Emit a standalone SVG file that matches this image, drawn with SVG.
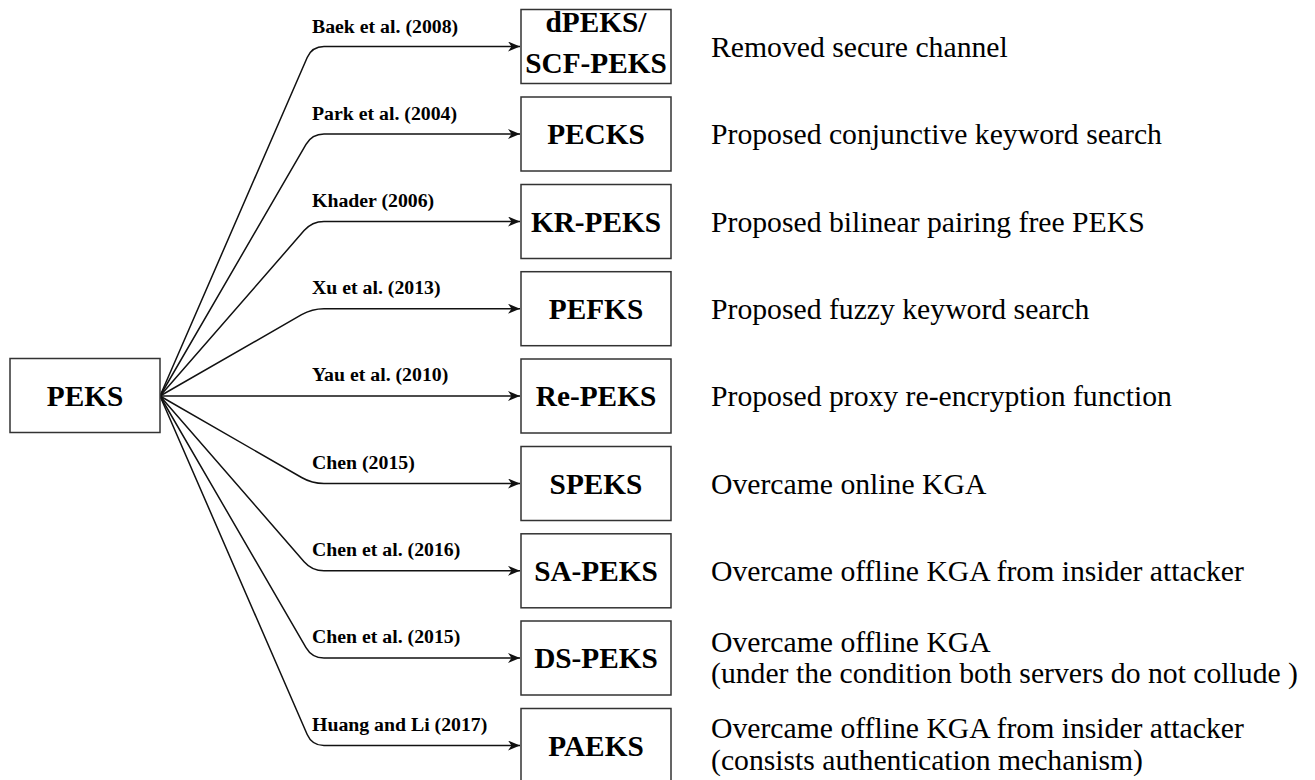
<svg xmlns="http://www.w3.org/2000/svg" width="1315" height="780" viewBox="0 0 1315 780">
<style>
.box{fill:#fff;stroke:#333;stroke-width:1.5}
.bl{font-family:"Liberation Serif","Times New Roman",serif;font-weight:bold;font-size:29.3px;fill:#000;text-anchor:middle}
.lab{font-family:"Liberation Serif","Times New Roman",serif;font-weight:bold;font-size:19.8px;fill:#000}
.desc{font-family:"Liberation Serif","Times New Roman",serif;font-size:29.7px;fill:#000}
.edge{fill:none;stroke:#111;stroke-width:1.5}
</style>
<defs>
<marker id="arr" markerUnits="userSpaceOnUse" markerWidth="14" markerHeight="12" refX="12" refY="5" orient="auto">
<path d="M0,0 L12,5 L0,10 L3.5,5 Z" fill="#111"/>
</marker>
</defs>
<rect width="1315" height="780" fill="#fff"/>
<g id="connectors">
<path class="edge" marker-end="url(#arr)" d="M160,396 L307.2,57.5 Q312,46.5 324,46.5 L520,46.5"/>
<path class="edge" marker-end="url(#arr)" d="M160,396 L306,144.4 Q312,134 324,134 L520,134"/>
<path class="edge" marker-end="url(#arr)" d="M160,396 L304.1,230.6 Q312,221.5 324,221.5 L520,221.5"/>
<path class="edge" marker-end="url(#arr)" d="M160,396 L301.6,314.7 Q312,308.7 324,308.7 L520,308.7"/>
<path class="edge" marker-end="url(#arr)" d="M160,396 L520,396"/>
<path class="edge" marker-end="url(#arr)" d="M160,396 L301.6,477.5 Q312,483.5 324,483.5 L520,483.5"/>
<path class="edge" marker-end="url(#arr)" d="M160,396 L304.1,561.7 Q312,570.8 324,570.8 L520,570.8"/>
<path class="edge" marker-end="url(#arr)" d="M160,396 L306,647.6 Q312,658 324,658 L520,658"/>
<path class="edge" marker-end="url(#arr)" d="M160,396 L307.2,734.5 Q312,745.5 324,745.5 L520,745.5"/>
<text class="lab" x="312" y="33">Baek et al. (2008)</text>
<text class="lab" x="312" y="120">Park et al. (2004)</text>
<text class="lab" x="312" y="207">Khader (2006)</text>
<text class="lab" x="312" y="294">Xu et al. (2013)</text>
<text class="lab" x="312" y="381">Yau et al. (2010)</text>
<text class="lab" x="312" y="469">Chen (2015)</text>
<text class="lab" x="312" y="556">Chen et al. (2016)</text>
<text class="lab" x="312" y="643">Chen et al. (2015)</text>
<text class="lab" x="312" y="731">Huang and Li (2017)</text>
</g>
<g id="peks">
<rect class="box" x="10" y="358.5" width="150" height="74"/>
<text class="bl" x="85" y="406">PEKS</text>
</g>
<g id="dpeks">
<rect class="box" x="521" y="9.5" width="150" height="74"/>
<text class="bl" x="596" y="32">dPEKS/</text>
<text class="bl" x="596" y="73">SCF-PEKS</text>
<text class="desc" x="711" y="57">Removed secure channel</text>
</g>
<g id="pecks">
<rect class="box" x="521" y="97" width="150" height="74"/>
<text class="bl" x="596" y="144">PECKS</text>
<text class="desc" x="711" y="144">Proposed conjunctive keyword search</text>
</g>
<g id="krpeks">
<rect class="box" x="521" y="184.5" width="150" height="74"/>
<text class="bl" x="596" y="231.5">KR-PEKS</text>
<text class="desc" x="711" y="231.5">Proposed bilinear pairing free PEKS</text>
</g>
<g id="pefks">
<rect class="box" x="521" y="271.7" width="150" height="74"/>
<text class="bl" x="596" y="318.7">PEFKS</text>
<text class="desc" x="711" y="318.7">Proposed fuzzy keyword search</text>
</g>
<g id="repeks">
<rect class="box" x="521" y="359" width="150" height="74"/>
<text class="bl" x="596" y="406">Re-PEKS</text>
<text class="desc" x="711" y="406">Proposed proxy re-encryption function</text>
</g>
<g id="speks">
<rect class="box" x="521" y="446.5" width="150" height="74"/>
<text class="bl" x="596" y="493.5">SPEKS</text>
<text class="desc" x="711" y="493.5">Overcame online KGA</text>
</g>
<g id="sapeks">
<rect class="box" x="521" y="533.8" width="150" height="74"/>
<text class="bl" x="596" y="580.8">SA-PEKS</text>
<text class="desc" x="711" y="580.8">Overcame offline KGA from insider attacker</text>
</g>
<g id="dspeks">
<rect class="box" x="521" y="621" width="150" height="74"/>
<text class="bl" x="596" y="668">DS-PEKS</text>
<text class="desc" x="711" y="652">Overcame offline KGA</text>
<text class="desc" x="711" y="683">(under the condition both servers do not collude )</text>
</g>
<g id="paeks">
<rect class="box" x="521" y="708.5" width="150" height="74"/>
<text class="bl" x="596" y="755.5">PAEKS</text>
<text class="desc" x="711" y="738">Overcame offline KGA from insider attacker</text>
<text class="desc" x="711" y="770">(consists authentication mechanism)</text>
</g>
</svg>
